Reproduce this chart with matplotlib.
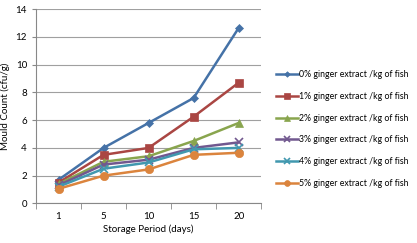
import matplotlib
matplotlib.use("Agg")
import matplotlib.pyplot as plt
import numpy as np

plt.rcParams['font.family'] = ['Lato', 'DejaVu Sans']

days = ["1", "5", "10", "15", "20"]
series_names = [
    "0% ginger extract /kg of fish",
    "1% ginger extract /kg of fish",
    "2% ginger extract /kg of fish",
    "3% ginger extract /kg of fish",
    "4% ginger extract /kg of fish",
    "5% ginger extract /kg of fish",
]
s0 = [1.7, 4.0, 5.8, 7.6, 12.65]
s1 = [1.5, 3.5, 4.0, 6.25, 8.7]
s2 = [1.4, 3.0, 3.4, 4.5, 5.8]
s3 = [1.3, 2.8, 3.15, 4.0, 4.4]
s4 = [1.2, 2.5, 2.95, 3.9, 4.0]
s5 = [1.05, 2.0, 2.45, 3.5, 3.65]
series = [s0, s1, s2, s3, s4, s5]
colors = ["#4572A7", "#AA4643", "#89A54E", "#71588F", "#4198AF", "#DB843D"]
markers = ["D", "s", "^", "x", "x", "o"]
msizes = [4, 5.5, 5.5, 6, 6, 6]

fig = plt.figure(figsize=(4.17, 2.43), dpi=100)
ax = fig.add_axes([0.0863, 0.163, 0.54, 0.799])

x = np.arange(len(days))
for name, vals, c, m, ms in zip(series_names, series, colors, markers, msizes):
    ax.plot(x, vals, color=c, marker=m, markersize=ms, linewidth=1.8,
            markeredgewidth=1.2 if m == "x" else 0.5, markeredgecolor=c, label=name)

ax.set_xlim(-0.5, len(days) - 0.5)
ax.set_ylim(0, 14)
ax.set_yticks(np.arange(0, 15, 2))
ax.set_xticks(x)
ax.set_xticklabels(days)
ax.set_xticks(np.arange(-0.5, len(days), 1), minor=True)
ax.tick_params(axis='x', which='major', length=0, labelsize=7, pad=6)
ax.tick_params(axis='x', which='minor', length=4, color='#888888', direction='out')
ax.tick_params(axis='y', length=3, color='#888888', labelsize=7)
ax.grid(axis='y', color='#A0A0A0', linewidth=0.8)
ax.set_axisbelow(True)
for sp in ['top', 'right']:
    ax.spines[sp].set_visible(False)
for sp in ['left', 'bottom']:
    ax.spines[sp].set_color('#888888')
    ax.spines[sp].set_linewidth(0.8)

ax.set_xlabel("Storage Period (days)", fontsize=7, labelpad=3)
ax.set_ylabel("Mould Count (cfu/g)", fontsize=7, labelpad=4)

leg = ax.legend(loc='upper left', bbox_to_anchor=(1.067, 0.685), frameon=False,
                fontsize=6.3, handlelength=2.5, handletextpad=0.15,
                labelspacing=1.45, borderaxespad=0, borderpad=0,
                markerscale=0.7)

fig.savefig("out.png", dpi=100)
